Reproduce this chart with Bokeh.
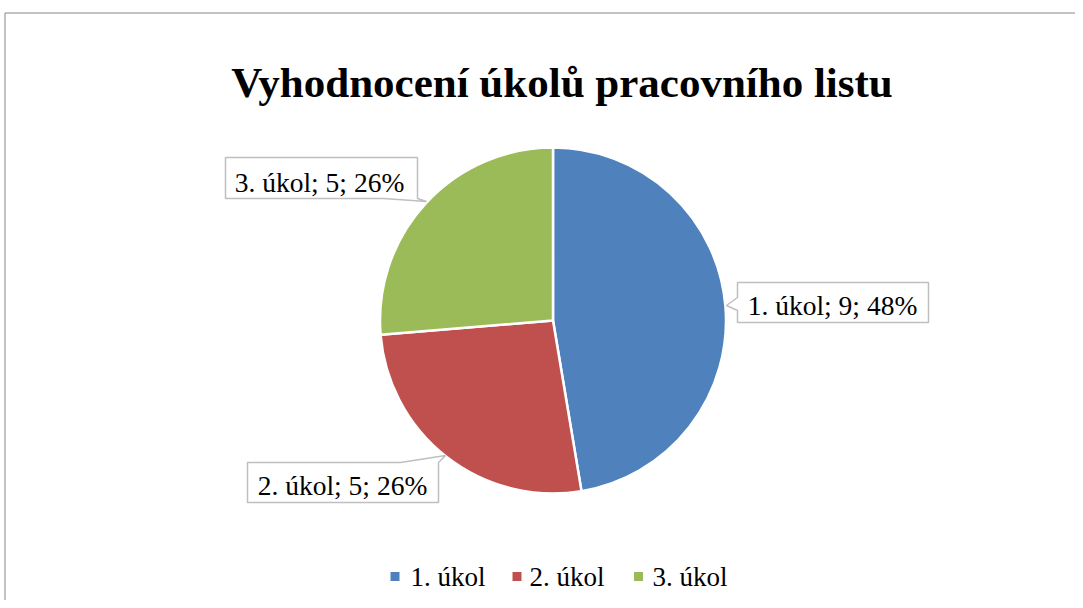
import math
from bokeh.plotting import figure
from bokeh.models import Range1d, ColumnDataSource
from bokeh.core.properties import value
from bokeh.embed import file_html
from bokeh.resources import INLINE

# ---- data ----
categories = ["1. úkol", "2. úkol", "3. úkol"]
counts = [9, 5, 5]
percents = [48, 26, 26]
colors = ["#4F81BD", "#C0504D", "#9BBB59"]
title_text = "Vyhodnocení úkolů pracovního listu"

W, H = 1075, 600
FONT = value("Liberation Serif")

p = figure(width=W, height=H, output_backend="svg", toolbar_location=None,
           x_range=Range1d(0, W), y_range=Range1d(0, H),
           min_border=0, outline_line_color=None)
p.axis.visible = False
p.grid.visible = False
p.background_fill_color = "white"
p.border_fill_color = "white"

def Y(v):
    # image-style y (from top) to data y
    return H - v

# chart area border (top and left)
p.line([4.5, W], [Y(12.5), Y(12.5)], line_color="#868686", line_width=1)
p.line([4.5, 4.5], [Y(12.5), 0], line_color="#868686", line_width=1)

# ---- pie ----
cx, cy, r = 552.5, Y(320), 173
total = sum(counts)
starts, ends = [], []
acc = 0.0
for c in counts:
    a0 = math.pi / 2 - 2 * math.pi * acc / total
    acc += c
    a1 = math.pi / 2 - 2 * math.pi * acc / total
    starts.append(a0)
    ends.append(a1)
src = ColumnDataSource(dict(start=starts, end=ends, color=colors))
p.wedge(x=cx, y=cy, radius=r, start_angle="start", end_angle="end",
        direction="clock", fill_color="color", line_color="white",
        line_width=2.5, source=src)

# ---- data labels (callouts) ----
labels = [f"{c}; {n}; {pc}%" for c, n, pc in zip(categories, counts, percents)]
callouts = [
    [(737, 282), (928, 282), (928, 322), (737, 322), (737, 310), (726, 305), (737, 297)],
    [(247, 462), (400, 462), (445, 455), (438, 462), (438, 502), (247, 502)],
    [(225, 157), (417, 157), (417, 198), (426, 201), (383, 198), (225, 198)],
]
LOFF = 8
text_pos = [(832, 313 - LOFF), (342, 493 - LOFF), (319, 190 - LOFF)]
p.patches(xs=[[pt[0] for pt in poly] for poly in callouts],
          ys=[[Y(pt[1]) for pt in poly] for poly in callouts],
          fill_color="white", line_color="#BFBFBF", line_width=1.5)
p.text(x=[t[0] for t in text_pos], y=[Y(t[1]) for t in text_pos], text=labels,
       text_font=FONT, text_font_size="27.5px", text_color="black",
       text_align="center", text_baseline="alphabetic")

# ---- title ----
p.text(x=[561.5], y=[Y(97 - 15)], text=[title_text], text_font=FONT,
       text_font_size="43px", text_font_style="bold", text_color="black",
       text_align="center", text_baseline="alphabetic")

# ---- legend ----
leg_sq_x = [394.5, 516.5, 638]
leg_tx_x = [410, 529, 652]
p.rect(x=leg_sq_x, y=[Y(576)] * 3, width=9, height=9, fill_color=colors,
       line_color=None)
p.text(x=leg_tx_x, y=[Y(585 - 9)] * 3, text=categories, text_font=FONT,
       text_font_size="27px", text_color="black", text_align="left",
       text_baseline="alphabetic")

open("out.html", "w").write(file_html(p, INLINE))
